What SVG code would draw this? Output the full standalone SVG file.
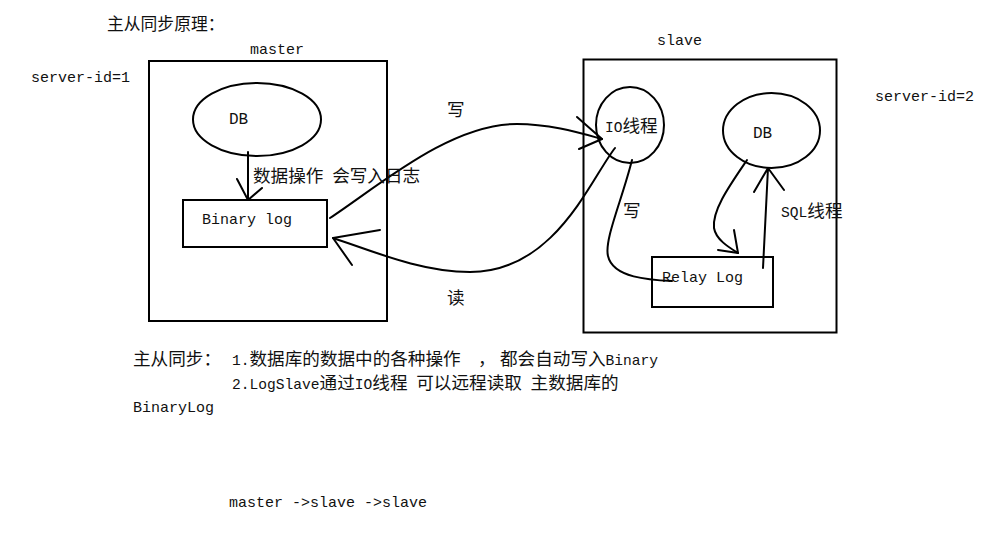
<svg xmlns="http://www.w3.org/2000/svg" width="998" height="537" viewBox="0 0 998 537">
<style>
.c{font-family:"Noto Sans CJK SC","Noto Sans CJK JP",sans-serif;font-size:17.6px;fill:#111}
.m{font-family:"Liberation Mono","DejaVu Sans Mono",monospace;font-size:14.6px;fill:#111}
.l{font-size:15px}
.box{fill:none;stroke:#000;stroke-width:2}
.ln{fill:none;stroke:#000;stroke-width:2;stroke-linecap:round;stroke-linejoin:round}
</style>
<rect width="998" height="537" fill="#fff"/>
<text class="c" x="107" y="30" style="font-size:16.8px">主从同步原理：</text>
<text class="m l" x="31" y="82">server-id=1</text>
<text class="m l" x="875" y="101">server-id=2</text>

<g id="master">
<rect class="box" x="149" y="61" width="238" height="260"/>
<text class="m l" x="250" y="54">master</text>
</g>
<g id="master-db">
<ellipse class="box" cx="257" cy="119.5" rx="64" ry="36.5"/>
<text class="m" x="229" y="124" style="font-size:16px">DB</text>
</g>
<g id="binary-log">
<rect class="box" x="183" y="200" width="144" height="47"/>
<text class="m l" x="202" y="224">Binary log</text>
</g>

<g id="slave">
<rect class="box" x="583.5" y="59.5" width="253" height="273"/>
<text class="m l" x="657" y="45">slave</text>
</g>
<g id="io-thread">
<ellipse class="box" cx="630" cy="125" rx="34" ry="38"/>
<text class="c" x="605" y="132"><tspan class="m">IO</tspan>线程</text>
</g>
<g id="slave-db">
<ellipse class="box" cx="771.5" cy="130.5" rx="48.5" ry="37.5"/>
<text class="m" x="753" y="138" style="font-size:16px">DB</text>
</g>
<g id="relay-log">
<rect class="box" x="652" y="257" width="121" height="50"/>
<text class="m l" x="662" y="282">Relay Log</text>
</g>

<g id="connectors">
<path class="ln" d="M248,152 L248,200 M237,179 L248,200 L262,188"/>
<path class="ln" d="M330,218 C380,185 450,124 517,124 C550,124 580,133 602,139"/>
<path class="ln" d="M577,117 L602,139 L579,149"/>
<path class="ln" d="M615,148 C590,180 555,272 470,272 C420,272 370,250 333,238"/>
<path class="ln" d="M380,230 L333,238 L352,265"/>
<path class="ln" d="M632,160 C622,200 604,240 608,256 C613,278 650,280 672,281"/>
<path class="ln" d="M747,160 C730,185 712,210 714,228 C716,240 730,248 738,253"/>
<path class="ln" d="M718,250 L738,253 L734,230"/>
<path class="ln" d="M763,268 L768,168 M754,192 L768,168 L784,190"/>
</g>

<text class="c" x="253" y="182">数据操作<tspan class="m"> </tspan>会写入日志</text>
<text class="c" x="447" y="116">写</text>
<text class="c" x="447" y="304">读</text>
<text class="c" x="623" y="217">写</text>
<text class="c" x="781" y="217"><tspan class="m">SQL</tspan>线程</text>

<text class="c" x="133" y="365">主从同步：</text>
<text class="c" y="365"><tspan class="m" x="232">1.</tspan><tspan>数据库的数据中的各种操作</tspan><tspan x="478">，</tspan><tspan x="500">都会自动写入</tspan><tspan class="m">Binary</tspan></text>
<text class="c" y="389"><tspan class="m" x="232">2.LogSlave</tspan>通过<tspan class="m">IO</tspan>线程<tspan class="m"> </tspan>可以远程读取<tspan class="m"> </tspan>主数据库的</text>
<text class="m l" x="133" y="412">BinaryLog</text>
<text class="m l" x="229" y="507">master -&gt;slave -&gt;slave</text>
</svg>
